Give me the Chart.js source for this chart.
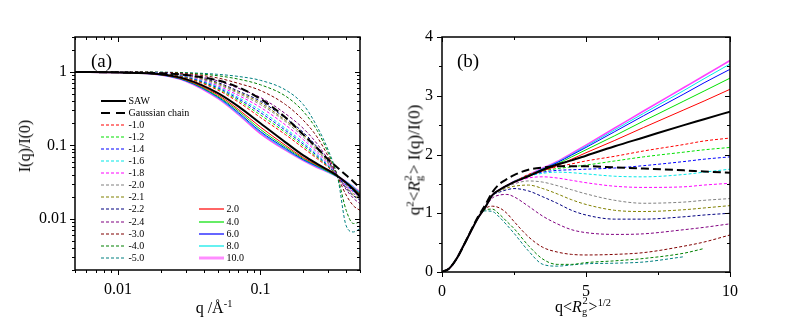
<!DOCTYPE html>
<html><head><meta charset="utf-8">
<script src="https://cdn.jsdelivr.net/npm/chart.js@4.4.1/dist/chart.umd.min.js"></script>
<style>
html,body{margin:0;padding:0;background:#fff;overflow:hidden}
#wrap{position:relative;width:791px;height:327px;background:#fff}
canvas{position:absolute;top:0}
.t{position:absolute;font-family:"Liberation Serif","Times New Roman",serif;font-size:16px;color:#000;white-space:nowrap;line-height:1}
.sp{font-size:0.65em;position:relative;top:-0.55em}
.st{display:inline-block;position:relative;width:0.42em;height:1em;vertical-align:top}
.st .u{position:absolute;left:0.05em;top:-0.3em;font-size:0.65em}
.st .d{position:absolute;left:0;top:0.75em;font-size:0.65em}
</style></head><body>
<div id="wrap">
<canvas id="ca" width="395" height="327" style="left:0"></canvas>
<canvas id="cb" width="396" height="327" style="left:395px"></canvas>
<div class="t" style="left:91px;top:51px;font-size:19px">(a)</div>
<div class="t" style="left:457px;top:51px;font-size:19px">(b)</div>
<div class="t" style="left:25px;top:146px;transform:translate(-50%,-50%) rotate(-90deg)">I(q)/I(0)</div>
<div class="t" style="left:214px;top:308px;transform:translate(-50%,-50%)">q /Å<span class="sp">-1</span></div>
<div class="t" style="left:414px;top:160px;font-size:17px;transform:translate(-50%,-50%) rotate(-90deg)">q<span class="sp">2</span>&lt;<i>R</i><span class="st"><span class="u">2</span><span class="d">g</span></span>&gt; I(q)/I(0)</div>
<div class="t" style="left:583px;top:307px;transform:translate(-50%,-50%)">q&lt;<i>R</i><span class="st"><span class="u">2</span><span class="d">g</span></span>&gt;<span class="sp">1/2</span></div>
</div>
<script>
// ---------- tick labels ----------
const aXMajor = [0.01, 0.1];
const aYMajor = [0.01, 0.1, 1];
const bXMajor = [0, 5, 10];
const bYMajor = [0, 1, 2, 3, 4];

// ---------- series names ----------
const names = ['SAW','Gaussian chain','-1.0','-1.2','-1.4','-1.6','-1.8','-2.0','-2.1','-2.2','-2.4','-3.0','-4.0','-5.0','2.0','4.0','6.0','8.0','10.0'];

// ---------- panel (a): I(q)/I(0) vs q ----------
const qA = [0.005,0.01,0.02,0.03,0.05,0.07,0.1,0.15,0.2,0.25,0.3,0.35,0.4,0.45,0.5];
const aSAW   = [1,0.985,0.93,0.80,0.52,0.34,0.20,0.11,0.073,0.056,0.046,0.038,0.031,0.025,0.020];
const aGauss = [1,0.99,0.96,0.91,0.77,0.62,0.43,0.24,0.14,0.092,0.064,0.049,0.039,0.032,0.026];
const aM10 = [1,0.99,0.94,0.83,0.57,0.39,0.24,0.14,0.092,0.066,0.050,0.038,0.030,0.025,0.0215];
const aM12 = [1,0.99,0.945,0.84,0.59,0.41,0.26,0.15,0.098,0.069,0.051,0.038,0.030,0.025,0.021];
const aM14 = [1,0.99,0.95,0.85,0.61,0.43,0.28,0.16,0.104,0.072,0.052,0.038,0.029,0.024,0.0205];
const aM16 = [1,0.99,0.955,0.86,0.63,0.45,0.30,0.17,0.11,0.075,0.053,0.038,0.029,0.0235,0.020];
const aM18 = [1,0.99,0.96,0.87,0.65,0.48,0.33,0.19,0.12,0.08,0.055,0.038,0.028,0.023,0.0195];
const aM20 = [1,0.995,0.965,0.89,0.68,0.51,0.36,0.21,0.13,0.085,0.057,0.038,0.027,0.022,0.019];
const aM21 = [1,0.995,0.97,0.90,0.70,0.53,0.38,0.22,0.14,0.09,0.058,0.038,0.027,0.021,0.0185];
const aM22 = [1,0.995,0.97,0.91,0.72,0.55,0.40,0.235,0.15,0.095,0.06,0.038,0.026,0.0205,0.018];
const aM24 = [1,0.995,0.975,0.92,0.76,0.60,0.45,0.27,0.17,0.105,0.063,0.038,0.025,0.019,0.016];
const aM30 = [1,1,0.985,0.95,0.83,0.70,0.56,0.36,0.22,0.13,0.07,0.037,0.021,0.015,0.013];
const aM40 = [1,1,0.99,0.97,0.89,0.80,0.67,0.47,0.29,0.16,0.078,0.036,0.013,0.0086,0.009];
const aM50 = [1,1,0.995,0.98,0.93,0.87,0.77,0.57,0.36,0.18,0.085,0.035,0.008,0.0066,0.0073];
const aP2  = [1,0.985,0.92,0.78,0.49,0.31,0.178,0.10,0.068,0.054,0.045,0.038,0.031,0.026,0.021];
const aP4  = [1,0.985,0.92,0.77,0.47,0.295,0.165,0.095,0.066,0.053,0.044,0.037,0.031,0.026,0.0215];
const aP6  = [1,0.985,0.915,0.76,0.46,0.28,0.155,0.091,0.064,0.052,0.044,0.037,0.031,0.026,0.022];
const aP8  = [1,0.985,0.91,0.755,0.45,0.27,0.15,0.088,0.063,0.051,0.043,0.037,0.032,0.027,0.0225];
const aP10 = [1,0.985,0.91,0.75,0.44,0.265,0.145,0.086,0.062,0.050,0.043,0.037,0.032,0.027,0.023];

// ---------- panel (b): Kratky plot ----------
const xB = [0,0.25,0.5,0.75,1,1.25,1.5,1.75,2,2.25,2.5,3,3.5,4,4.5,5,6,7,8.4,9.1,10];
const bSAW   = [0,0.06,0.22,0.45,0.69,0.92,1.1,1.31,1.40,1.47,1.53,1.63,1.74,1.83,1.9,1.98,2.14,2.29,2.5,2.6,2.73];
const bGauss = [0,0.06,0.22,0.45,0.7,0.94,1.14,1.36,1.5,1.58,1.65,1.74,1.78,1.8,1.8,1.8,1.78,1.76,1.73,1.71,1.69];
const bM10 = [0,0.06,0.22,0.45,0.69,0.92,1.1,1.31,1.40,1.47,1.53,1.66,1.73,1.79,1.84,1.89,1.97,2.06,2.17,2.23,2.28];
const bM12 = [0,0.06,0.22,0.45,0.69,0.92,1.1,1.31,1.40,1.47,1.53,1.65,1.72,1.76,1.79,1.82,1.89,1.96,2.04,2.08,2.12];
const bM14 = [0,0.06,0.22,0.45,0.69,0.92,1.1,1.31,1.40,1.47,1.53,1.64,1.70,1.73,1.74,1.75,1.77,1.81,1.88,1.92,1.96];
const bM16 = [0,0.06,0.22,0.45,0.69,0.92,1.1,1.31,1.40,1.47,1.53,1.63,1.68,1.70,1.69,1.67,1.63,1.62,1.66,1.70,1.75];
const bM18 = [0,0.06,0.22,0.45,0.69,0.92,1.1,1.31,1.40,1.47,1.52,1.60,1.62,1.60,1.56,1.52,1.46,1.44,1.45,1.48,1.51];
const bM20 = [0,0.06,0.22,0.45,0.69,0.92,1.1,1.31,1.39,1.45,1.50,1.55,1.53,1.47,1.40,1.33,1.22,1.17,1.19,1.22,1.25];
const bM21 = [0,0.06,0.22,0.45,0.69,0.92,1.1,1.31,1.38,1.43,1.46,1.48,1.42,1.33,1.23,1.15,1.05,1.03,1.06,1.09,1.13];
const bM22 = [0,0.06,0.22,0.45,0.69,0.92,1.1,1.30,1.36,1.40,1.42,1.38,1.28,1.17,1.05,0.97,0.90,0.90,0.94,0.97,1.0];
const bM24 = [0,0.06,0.22,0.45,0.69,0.92,1.1,1.26,1.31,1.32,1.28,1.12,0.95,0.82,0.72,0.67,0.64,0.65,0.72,0.76,0.82];
const bM30 = [0,0.06,0.22,0.45,0.69,0.92,1.08,1.12,1.09,1.0,0.86,0.6,0.42,0.34,0.30,0.29,0.30,0.33,0.44,0.51,0.63];
const bM40 = [0,0.06,0.22,0.45,0.69,0.92,1.06,1.07,0.98,0.86,0.74,0.45,0.22,0.13,0.13,0.16,0.19,0.23,0.32,0.40,null];
const bM50 = [0,0.06,0.22,0.45,0.69,0.92,1.04,1.03,0.93,0.8,0.66,0.36,0.13,0.10,0.12,0.14,0.15,0.17,0.26,null,null];
const bP2  = [0,0.06,0.22,0.45,0.69,0.92,1.1,1.31,1.40,1.47,1.53,1.63,1.72,1.81,1.92,2.03,2.24,2.46,2.76,2.91,3.11];
const bP4  = [0,0.06,0.22,0.45,0.69,0.92,1.1,1.31,1.40,1.47,1.54,1.64,1.74,1.84,1.96,2.08,2.32,2.57,2.91,3.08,3.30];
const bP6  = [0,0.06,0.22,0.45,0.69,0.92,1.1,1.31,1.40,1.47,1.54,1.64,1.75,1.86,1.99,2.12,2.39,2.66,3.03,3.22,3.45];
const bP8  = [0,0.06,0.22,0.45,0.69,0.92,1.1,1.31,1.40,1.47,1.54,1.65,1.76,1.87,2.0,2.14,2.42,2.70,3.09,3.29,3.54];
const bP10 = [0,0.06,0.22,0.45,0.69,0.92,1.1,1.31,1.40,1.47,1.54,1.65,1.77,1.88,2.02,2.16,2.45,2.74,3.14,3.34,3.60];

const seriesA = [aSAW,aGauss,aM10,aM12,aM14,aM16,aM18,aM20,aM21,aM22,aM24,aM30,aM40,aM50,aP2,aP4,aP6,aP8,aP10];
const seriesB = [bSAW,bGauss,bM10,bM12,bM14,bM16,bM18,bM20,bM21,bM22,bM24,bM30,bM40,bM50,bP2,bP4,bP6,bP8,bP10];

// ---------- styles ----------
const colors = ['#000000','#000000','#ff0000','#00e000','#0000ff','#00e8e8','#ff00ff','#808080','#808000','#000080','#800080','#800000','#008000','#008080','#ff0000','#00e000','#0000ff','#00e8e8','#ff40ff'];
const widths = [2,2,1,1,1,1,1,1,1,1,1,1,1,1,1,1,1,1,1.6];
const dashes = [[],[8,4],[3,2],[3,2],[3,2],[3,2],[3,2],[3,2],[3,2],[3,2],[3,2],[3,2],[3,2],[3,2],[],[],[],[],[]];

function makeSets(xs, series){
  return series.map((s,i)=>({
    label: names[i],
    data: xs.map((x,k)=>({x:x, y:s[k]})),
    borderColor: colors[i], borderWidth: widths[i], borderDash: dashes[i],
    pointRadius: 0, fill: false, cubicInterpolationMode: 'monotone', spanGaps: false
  }));
}

function logMinor(min, max, majors){
  const out = [];
  for (let d = -4; d <= 1; d++) for (let m = 1; m <= 9; m++){
    const v = +(m*Math.pow(10,d)).toPrecision(6);
    if (v >= min*0.999 && v <= max*1.001 && !majors.includes(v)) out.push(v);
  }
  return out;
}
function linMinor(min, max, step, majors){
  const out = [];
  for (let v = min; v <= max + 1e-9; v += step){ const r = +v.toFixed(6); if (!majors.includes(r)) out.push(r); }
  return out;
}

const frame = {
  id: 'frame',
  afterDatasetsDraw(chart, args, opts){
    const {ctx, chartArea: a} = chart;
    const sx = chart.scales.x, sy = chart.scales.y;
    ctx.save();
    ctx.strokeStyle = '#000';
    ctx.lineWidth = 1;
    const seg = (x1,y1,x2,y2)=>{ctx.beginPath();ctx.moveTo(x1,y1);ctx.lineTo(x2,y2);ctx.stroke();};
    const doX = (vals, L)=>vals.forEach(v=>{const p=Math.round(sx.getPixelForValue(v))+0.5; seg(p,a.bottom,p,a.bottom+L); seg(p,a.top,p,a.top+L);});
    const doY = (vals, L)=>vals.forEach(v=>{const p=Math.round(sy.getPixelForValue(v))+0.5; seg(a.left,p,a.left-L,p); seg(a.right,p,a.right-L,p);});
    doX(opts.xMaj,5); doX(opts.xMin,3); doY(opts.yMaj,5); doY(opts.yMin,3);
    ctx.lineWidth = 1.5;
    ctx.strokeRect(a.left, a.top, a.right-a.left, a.bottom-a.top);
    ctx.restore();
  }
};

const legendA = {
  id: 'legendA',
  afterDraw(chart){
    const {ctx, chartArea: a} = chart;
    const rowH = 12.08;
    ctx.save();
    ctx.font = '10px "Liberation Serif", serif';
    ctx.textBaseline = 'middle';
    names.forEach((nm,i)=>{
      let col = 0, row = i;
      if (i >= 14){ col = 1; row = i - 14 + 9; }
      const x0 = Math.round(a.left + (col ? 124.3 : 25.7));
      const yc = a.top + 63.7 + row*rowH;
      const y0 = Math.round(yc);
      ctx.save();
      ctx.strokeStyle = colors[i];
      ctx.lineWidth = i === 18 ? 3 : (i < 2 ? 2 : 1.2);
      if (i === 18) ctx.globalAlpha = 0.6;
      ctx.setLineDash(i === 1 ? [9,6] : dashes[i]);
      ctx.beginPath(); ctx.moveTo(x0, y0); ctx.lineTo(x0+25, y0); ctx.stroke();
      ctx.restore();
      ctx.fillStyle = '#000';
      ctx.fillText(nm, x0+27.5, y0+0.5);
    });
    ctx.restore();
  }
};

const tickFont = {family: '"Liberation Serif", "Times New Roman", serif', size: 16};

function baseOpts(xs, ys, pad, yW, xH, frameOpts){
  return {
    responsive: false, animation: false, events: [],
    layout: {padding: pad},
    plugins: {legend: {display: false}, tooltip: {enabled: false}, frame: frameOpts},
    scales: {
      x: Object.assign({
        grid: {display: false, drawTicks: false}, border: {display: false},
        ticks: {font: tickFont, color: '#000', padding: 10, maxRotation: 0, autoSkip: false},
        afterFit: s => { s.height = xH; }
      }, xs),
      y: Object.assign({
        grid: {display: false, drawTicks: false}, border: {display: false},
        ticks: {font: tickFont, color: '#000', padding: 8, autoSkip: false},
        afterFit: s => { s.width = yW; }
      }, ys)
    }
  };
}

const optsA = baseOpts(
  {type: 'logarithmic', min: 0.005, max: 0.5,
   afterBuildTicks: s => { s.ticks = aXMajor.map(v => ({value: v})); }},
  {type: 'logarithmic', min: 0.002, max: 3,
   afterBuildTicks: s => { s.ticks = aYMajor.map(v => ({value: v})); }},
  {left: 0, right: 35, top: 37, bottom: 0}, 75, 57,
  {xMaj: aXMajor, xMin: logMinor(0.005, 0.5, aXMajor), yMaj: aYMajor, yMin: logMinor(0.002, 3, aYMajor)}
);
optsA.scales.x.ticks.callback = v => String(v);
optsA.scales.y.ticks.callback = v => String(v);

const optsB = baseOpts(
  {type: 'linear', min: 0, max: 10,
   afterBuildTicks: s => { s.ticks = bXMajor.map(v => ({value: v})); }},
  {type: 'linear', min: 0, max: 4,
   afterBuildTicks: s => { s.ticks = bYMajor.map(v => ({value: v})); }},
  {left: 0, right: 61, top: 37, bottom: 0}, 47, 55,
  {xMaj: bXMajor, xMin: linMinor(0, 10, 2.5, bXMajor), yMaj: bYMajor, yMin: linMinor(0, 4, 0.5, bYMajor)}
);
optsB.scales.x.ticks.callback = v => String(v);
optsB.scales.y.ticks.callback = v => String(v);
optsB.scales.y.ticks.padding = 9;

new Chart(document.getElementById('ca'), {
  type: 'line',
  data: {datasets: makeSets(qA, seriesA)},
  options: optsA,
  plugins: [frame, legendA]
});
new Chart(document.getElementById('cb'), {
  type: 'line',
  data: {datasets: makeSets(xB, seriesB)},
  options: optsB,
  plugins: [frame]
});
</script>
</body></html>
